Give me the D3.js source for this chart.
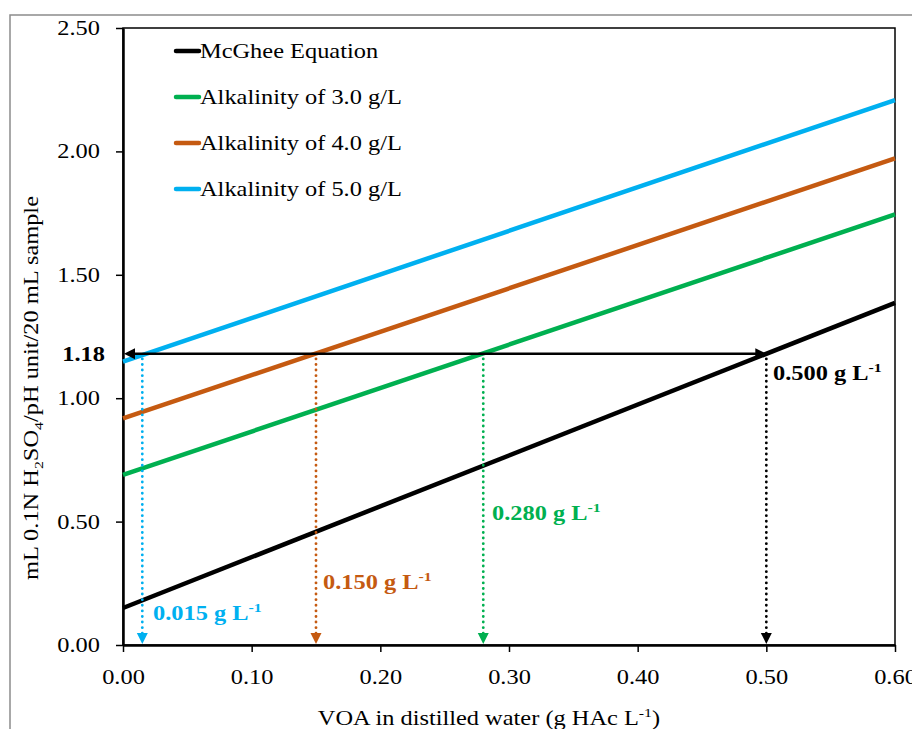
<!DOCTYPE html>
<html><head><meta charset="utf-8">
<script src="https://cdn.jsdelivr.net/npm/d3@7"></script>
<style>body{margin:0;background:#fff}svg{display:block}text{font-family:"Liberation Serif","Times New Roman",serif}</style>
</head><body>
<svg id="c" width="912" height="729"></svg>
<script>
const xEnds = [0, 0.6];
const seriesNames = ["McGhee Equation","Alkalinity of 3.0 g/L","Alkalinity of 4.0 g/L","Alkalinity of 5.0 g/L"];
const seriesColors = ["#000000","#00B050","#C55A11","#00B0F0"];
const seriesY = [[0.150, 1.386],[0.689, 1.745],[0.918, 1.972],[1.148, 2.208]];
const targetY = 1.18;
const readX = [0.500, 0.280, 0.150, 0.015];
const readLabels = ["0.500 g L","0.280 g L","0.150 g L","0.015 g L"];
const xTicks = [0,0.1,0.2,0.3,0.4,0.5,0.6];
const yTicks = [0,0.5,1.0,1.5,2.0,2.5];

const SX = 1.22; // horizontal glyph stretch to match reference
const svg = d3.select("#c");
const L=123,R=895,T=28,B=645;
const x = d3.scaleLinear().domain([0,0.6]).range([L,R]);
const y = d3.scaleLinear().domain([0,2.5]).range([B,T]);

function txt(px,py,anchor,extra){
  const g = svg.append("g").attr("transform",`translate(${px},${py}) ${extra||""} scale(${SX},1)`);
  return g.append("text").attr("x",0).attr("y",0).attr("text-anchor",anchor||"start")
    .attr("font-size",20).attr("fill","#000");
}

// outer chart border
svg.append("rect").attr("x",10).attr("y",15).attr("width",930).attr("height",740)
  .attr("fill","none").attr("stroke","#8c8c8c").attr("stroke-width",1.5);

// plot border
svg.append("rect").attr("x",L).attr("y",T).attr("width",R-L).attr("height",B-T)
  .attr("fill","none").attr("stroke","#000").attr("stroke-width",1.5);

// axes
const xa = svg.append("g").attr("transform",`translate(0,${B})`)
  .call(d3.axisBottom(x).tickValues(xTicks).tickFormat(d3.format(".2f")).tickSize(7).tickSizeOuter(0));
const ya = svg.append("g").attr("transform",`translate(${L},0)`)
  .call(d3.axisLeft(y).tickValues(yTicks).tickFormat(d3.format(".2f")).tickSize(7).tickSizeOuter(0));
[xa,ya].forEach(g=>{
  g.select(".domain").attr("stroke","#000").attr("stroke-width",2.5);
  g.selectAll(".tick line").attr("stroke","#000").attr("stroke-width",1.5);
  g.selectAll(".tick text").attr("font-size",20).attr("fill","#000")
   .attr("font-family","Liberation Serif, Times New Roman, serif")
   .attr("transform",`scale(${SX},1)`);
});
xa.selectAll(".tick text").attr("dy","1.45em");
ya.selectAll(".tick text").attr("x",-23/SX);

// lines
const line = d3.line().x(d=>x(d[0])).y(d=>y(d[1]));
seriesY.forEach((ys,i)=>{
  svg.append("path").datum(xEnds.map((xv,j)=>[xv,ys[j]]))
    .attr("d",line).attr("fill","none").attr("stroke",seriesColors[i]).attr("stroke-width",4.5);
});

// arrowhead helper
function tri(px,py,dir,color){
  const s=5.5,h=11;
  let pts;
  if(dir==="down") pts=[[px-s,py-h],[px+s,py-h],[px,py]];
  else if(dir==="left") pts=[[px,py],[px+h,py-s],[px+h,py+s]];
  else pts=[[px,py],[px-h,py-s],[px-h,py+s]];
  svg.append("path").attr("d","M"+pts.join("L")+"Z").attr("fill",color);
}

// horizontal double arrow
const hx0 = x(0)+1, hx1 = x(readX[0]);
svg.append("line").attr("x1",hx0+8).attr("x2",hx1-8).attr("y1",y(targetY)).attr("y2",y(targetY))
  .attr("stroke","#000").attr("stroke-width",2.5);
tri(hx0,y(targetY),"left","#000");
tri(hx1,y(targetY),"right","#000");

// vertical dotted arrows
readX.forEach((rx,i)=>{
  const c = seriesColors[i];
  svg.append("line").attr("x1",x(rx)).attr("x2",x(rx)).attr("y1",y(targetY)+5).attr("y2",B-10)
    .attr("stroke",c).attr("stroke-width",2.8).attr("stroke-dasharray","0.1,5.5").attr("stroke-linecap","round");
  tri(x(rx),B-1,"down",c);
});

// reading labels
const labelPos = [[773,380],[492,520],[323,589],[153,620]];
readLabels.forEach((t,i)=>{
  const tx = txt(labelPos[i][0],labelPos[i][1],"start")
    .attr("font-weight","bold").attr("fill",seriesColors[i]).text(t);
  tx.append("tspan").attr("font-size",13).attr("dy",-8).text("-1");
});

// 1.18 label
txt(105,y(targetY)+7,"end").attr("font-weight","bold").text("1.18");

// legend
const legY=[51,97,143,189];
seriesNames.forEach((n,i)=>{
  svg.append("line").attr("x1",176).attr("x2",199).attr("y1",legY[i]).attr("y2",legY[i])
    .attr("stroke",seriesColors[i]).attr("stroke-width",4.5).attr("stroke-linecap","round");
  txt(200,legY[i]+7,"start").text(n);
});

// axis titles
const xt = txt(489,725,"middle").text("VOA in distilled water (g HAc L");
xt.append("tspan").attr("font-size",13).attr("dy",-8).text("-1");
xt.append("tspan").attr("dy",8).text(")");

const yt = txt(38,388,"middle","rotate(-90)");
yt.append("tspan").text("mL 0.1N H");
yt.append("tspan").attr("font-size",13).attr("dy",5).text("2");
yt.append("tspan").attr("dy",-5).text("SO");
yt.append("tspan").attr("font-size",13).attr("dy",5).text("4");
yt.append("tspan").attr("dy",-5).text("/pH unit/20 mL sample");
</script>
</body></html>
